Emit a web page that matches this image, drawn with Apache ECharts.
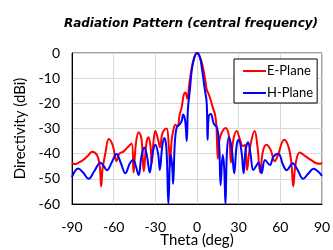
<!DOCTYPE html>
<html><head><meta charset="utf-8">
<script src="https://cdn.jsdelivr.net/npm/echarts@6/dist/echarts.min.js"></script>
<style>html,body{margin:0;padding:0;background:#fff}#c{width:333px;height:250px}</style>
</head><body><div id="c"></div>
<script>
const titleText = "Radiation Pattern (central frequency)";
const xTitle = "Theta (deg)";
const yTitle = "Directivity (dBi)";
const seriesNames = ["E-Plane", "H-Plane"];

const eTheta = [-90,-88,-85,-82,-78,-75.5,-72,-70,-69,-68,-66,-63.5,-60.5,-58,-56,-53,-50,-47,-45.7,-44,-42,-40,-38.3,-36.5,-35,-33.5,-32.6,-31.3,-30,-28,-26.6,-25.2,-23.5,-21.8,-20.3,-19.4,-18.3,-17,-15.5,-14,-12.5,-11,-9.5,-8.3,-7,-5.5,-4,-2,0,
  2,4,6,7,8.5,10,11.5,13,14,15,16,17.5,20.5,23,24.5,26,28.5,31,33,34.5,36,38,41.5,43.5,45.5,47.5,50,53,56,58,62.8,66,68,69.3,71,74,78,82,86,89,90];
const eDb = [-43.5,-44.2,-43.5,-42.5,-40.5,-39.2,-40.5,-45,-53,-46,-40,-34.2,-37,-43,-40,-39.2,-37.5,-36,-47.5,-36,-31.5,-34,-47,-36,-33.5,-37,-44,-35,-31,-34.5,-37.5,-32.5,-30.5,-30,-37,-45,-35,-30.5,-28.5,-29.3,-24.5,-21.5,-16.5,-15.7,-18.2,-12,-6.5,-1.8,0,
  -1.5,-5,-11,-14.5,-16.5,-19,-22,-24.5,-29,-42,-35,-32,-29.8,-33,-43.5,-35,-31,-34.5,-37,-36.5,-46.5,-38,-31,-37,-47.5,-39,-36.5,-38.5,-43,-41,-34.5,-37.5,-44,-53,-44,-39.5,-41,-42.5,-43.8,-44,-43.5];

const hTheta = [-90,-85.5,-82,-78,-74,-69.5,-67,-65,-61,-58,-55,-51.5,-48.5,-46,-44,-42,-40,-38,-36,-34,-32,-30,-28,-26.8,-25,-23.5,-22,-20.6,-19.5,-19,-18,-17.2,-16,-14.6,-12.5,-11,-10,-8.5,-7.4,-6.5,-5,-3.8,-2,0,
  2,3.5,5.5,7,7.6,8.5,10,12,14.5,16,17,18.5,19.5,20.5,21.5,23,25,26.8,28.5,30,32,33.6,35,36.8,38.5,40.5,42.5,44.3,46.5,49,52.5,55,58.5,62,64.5,69,72,76.5,80,84,87,90];
const hDb = [-49.3,-45.9,-47.5,-50,-47,-43.6,-45,-46.6,-43,-40.1,-43.5,-47.8,-44,-42.5,-45,-48.5,-41,-37.5,-41,-47.5,-40,-36.5,-40,-46.5,-37,-33.8,-38,-60,-42,-40.5,-44,-52,-36,-29.5,-28.4,-27,-24.4,-27,-35,-22,-14,-7,-2,0,
  -1.5,-6,-14,-20,-34.5,-25,-24.2,-28,-29.8,-37,-52.5,-40.5,-45,-60,-40,-33.5,-38,-47.8,-37,-34.5,-39,-47.8,-38.5,-35.5,-40,-46.5,-45,-43.5,-47.8,-42.5,-44.5,-41.2,-40,-44.5,-46.6,-43.8,-46,-50,-48,-46,-47,-48.8];

const xTicks = {min:-90, max:90, step:30};
const yTicks = {min:-60, max:0, step:10};

const pair = (a,b) => a.map((v,i)=>[v,b[i]]);
const font = "Lato, 'Open Sans', sans-serif";
const chart = echarts.init(document.getElementById('c'), null, {renderer:'canvas'});
chart.setOption({
  animation:false,
  backgroundColor:'#fff',
  title:{text:titleText,left:186,top:13,textAlign:'center',
    textStyle:{fontFamily:"'DejaVu Sans'",fontSize:12,fontWeight:'bold',fontStyle:'italic',color:'#000'}},
  grid:{left:72,right:11,top:53,bottom:46,show:true,borderColor:'#404040',borderWidth:1,
    containLabel:false,outerBoundsMode:'none'},
  legend:{orient:'vertical',left:234,top:59,padding:[4,4,2,9],itemGap:6,itemWidth:23,itemHeight:2,
    icon:'rect',
    backgroundColor:'#fff',borderColor:'#000',borderWidth:1,
    textStyle:{fontFamily:font,fontSize:13,color:'#000',padding:[0,0,0,-4],lineHeight:16},
    data:seriesNames},
  xAxis:{type:'value',min:xTicks.min,max:xTicks.max,interval:xTicks.step,
    name:xTitle,nameLocation:'middle',nameGap:29,nameMoveOverlap:false,
    nameTextStyle:{fontFamily:font,fontSize:15,color:'#000'},
    axisLine:{show:true,onZero:false,lineStyle:{color:'#000',width:1}},axisTick:{show:false},
    axisLabel:{fontFamily:font,fontSize:14,color:'#000',margin:16},
    splitLine:{show:true,lineStyle:{color:'#d9d9d9',width:1}}},
  yAxis:{type:'value',min:yTicks.min,max:yTicks.max,interval:yTicks.step,
    name:yTitle,nameLocation:'middle',nameGap:44,nameMoveOverlap:false,
    nameTextStyle:{fontFamily:font,fontSize:15,color:'#000'},
    axisLine:{show:true,onZero:false,lineStyle:{color:'#000',width:1}},axisTick:{show:false},
    axisLabel:{fontFamily:font,fontSize:14,color:'#000',margin:12},
    splitLine:{show:true,lineStyle:{color:'#d9d9d9',width:1}}},
  series:[
    {name:seriesNames[0],type:'line',data:pair(eTheta,eDb),symbol:'none',smooth:0.4,
      lineStyle:{color:'#ff0000',width:2},itemStyle:{color:'#ff0000'},z:2},
    {name:seriesNames[1],type:'line',data:pair(hTheta,hDb),symbol:'none',smooth:0.4,
      lineStyle:{color:'#0000ff',width:2},itemStyle:{color:'#0000ff'},z:3}
  ]
});
</script></body></html>
